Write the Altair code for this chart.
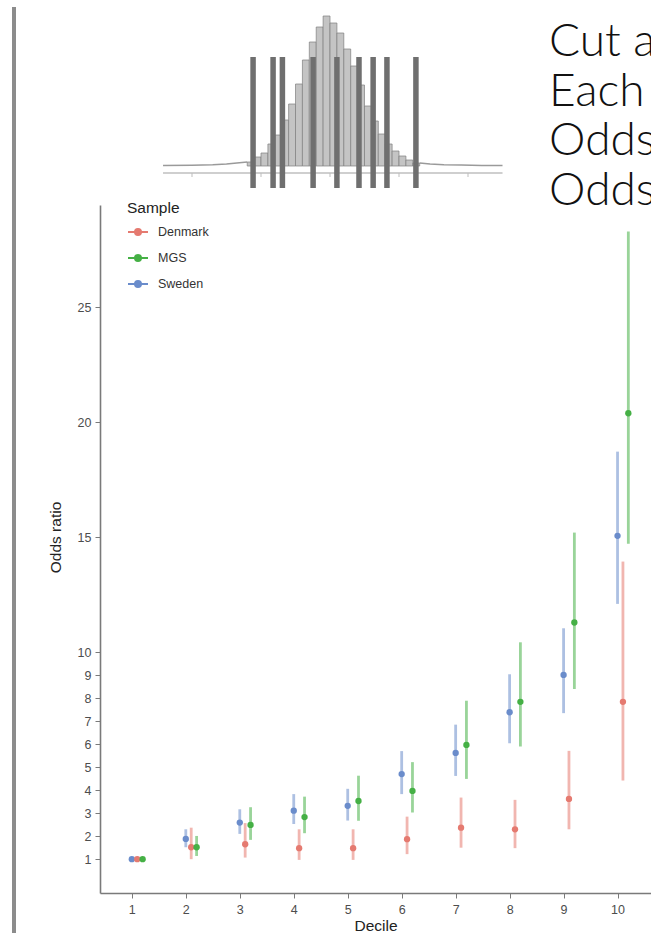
import altair as alt
import pandas as pd

# ---------------- data ----------------
deciles = list(range(1, 11))
samples = ["Denmark", "MGS", "Sweden"]
sample_colors = ["#E57A70", "#45B045", "#6A8CCB"]
dodge = {"Sweden": 0.0, "Denmark": 0.1, "MGS": 0.2}

sweden_or = [1.0, 1.88, 2.59, 3.11, 3.32, 4.70, 5.62, 7.39, 9.01, 15.06]
sweden_lo = [0.99, 1.52, 2.10, 2.53, 2.68, 3.83, 4.62, 6.04, 7.35, 12.10]
sweden_hi = [1.01, 2.30, 3.17, 3.83, 4.06, 5.70, 6.85, 9.04, 11.04, 18.72]

denmark_or = [1.0, 1.52, 1.65, 1.48, 1.48, 1.87, 2.37, 2.30, 3.62, 7.84]
denmark_lo = [0.99, 1.00, 1.07, 0.97, 0.97, 1.22, 1.50, 1.48, 2.30, 4.42]
denmark_hi = [1.01, 2.37, 2.57, 2.30, 2.30, 2.85, 3.68, 3.58, 5.71, 13.94]

mgs_or = [1.0, 1.52, 2.49, 2.83, 3.53, 3.97, 5.97, 7.84, 11.29, 20.39]
mgs_lo = [0.99, 1.14, 1.84, 2.13, 2.67, 3.03, 4.49, 5.90, 8.40, 14.71]
mgs_hi = [1.01, 2.01, 3.26, 3.72, 4.63, 5.22, 7.89, 10.43, 15.20, 28.29]

y_ticks = [1, 2, 3, 4, 5, 6, 7, 8, 9, 10, 15, 20, 25]

# histogram of the score (top sketch)
hist_start = -2.4
hist_width = 0.2
hist_heights = [4, 9, 13, 22, 31, 46, 62, 82, 106, 124, 139, 150, 143,
                133, 117, 100, 81, 60, 45, 32, 22, 15, 10, 6, 3]
tail_left_x = [-4.84, -4.0, -3.4, -3.0, -2.7, -2.4]
tail_left_y = [0.5, 0.8, 1.2, 2.0, 3.0, 4.0]
tail_right_x = [2.6, 2.9, 3.3, 3.8, 4.4, 5.0]
tail_right_y = [3.0, 2.0, 1.3, 0.9, 0.6, 0.5]
hist_axis_ticks = [-4, -2, 0, 2, 4]
decile_cuts = [-2.23, -1.65, -1.38, -0.49, 0.20, 0.84, 1.25, 1.65, 2.49]
slide_lines = ["Cut a", "Each", "Odds", "Odds"]

# ---------------- tables ----------------
series = {
    "Sweden": (sweden_or, sweden_lo, sweden_hi),
    "Denmark": (denmark_or, denmark_lo, denmark_hi),
    "MGS": (mgs_or, mgs_lo, mgs_hi),
}
rows = []
for s, (o, lo, hi) in series.items():
    for i, d in enumerate(deciles):
        rows.append({"sample": s, "decile": d, "pos": d + dodge[s],
                     "odds": o[i], "lo": lo[i], "hi": hi[i]})
df = pd.DataFrame(rows)

hist_df = pd.DataFrame({
    "x0": [hist_start + i * hist_width for i in range(len(hist_heights))],
    "x1": [hist_start + (i + 1) * hist_width for i in range(len(hist_heights))],
    "h": hist_heights,
})
tail_df = pd.DataFrame({
    "x": tail_left_x + tail_right_x,
    "y": tail_left_y + tail_right_y,
    "side": ["l"] * len(tail_left_x) + ["r"] * len(tail_right_x),
})
cuts_df = pd.DataFrame({"x": decile_cuts, "top": [109] * len(decile_cuts),
                        "bot": [-22] * len(decile_cuts)})
hline_df = pd.DataFrame({"x0": [tail_left_x[0]], "x1": [tail_right_x[-1]], "y": [-7]})
hticks_df = pd.DataFrame({"x": hist_axis_ticks, "y0": [-7] * 5, "y1": [-11] * 5})
text_df = pd.DataFrame({"t": slide_lines,
                        "x": [6.35] * len(slide_lines),
                        "y": [110 - 49.5 * i for i in range(len(slide_lines))]})

# ---------------- top sketch ----------------
TOP_H = 205
hx = alt.Scale(domain=[-6.667, 9.304], nice=False, zero=False)
hy = alt.Scale(domain=[166 - TOP_H, 166], nice=False, zero=False)

bars = alt.Chart(hist_df).mark_rect(fill="#c4c4c4", stroke="#808080", strokeWidth=0.7).encode(
    x=alt.X("x0:Q", scale=hx, axis=None), x2="x1:Q",
    y=alt.Y("h:Q", scale=hy, axis=None), y2=alt.datum(0))
tails = alt.Chart(tail_df).mark_line(color="#9a9a9a", strokeWidth=1.5).encode(
    x=alt.X("x:Q", scale=hx, axis=None), y=alt.Y("y:Q", scale=hy, axis=None), detail="side:N")
hline = alt.Chart(hline_df).mark_rule(color="#cfcfcf", strokeWidth=2).encode(
    x=alt.X("x0:Q", scale=hx, axis=None), x2="x1:Q", y=alt.Y("y:Q", scale=hy, axis=None))
hticks = alt.Chart(hticks_df).mark_rule(color="#bdbdbd", strokeWidth=1).encode(
    x=alt.X("x:Q", scale=hx, axis=None), y=alt.Y("y0:Q", scale=hy, axis=None), y2="y1:Q")
cuts = alt.Chart(cuts_df).mark_rule(color="#6f6f6f", strokeWidth=5.5).encode(
    x=alt.X("x:Q", scale=hx, axis=None), y=alt.Y("top:Q", scale=hy, axis=None), y2="bot:Q")
slide_text = alt.Chart(text_df).mark_text(
    align="left", baseline="alphabetic", font="Lato", fontWeight=300, fontSize=46,
    color="#111111", clip=True).encode(
    x=alt.X("x:Q", scale=hx, axis=None), y=alt.Y("y:Q", scale=hy, axis=None), text="t:N")

top = alt.layer(hline, hticks, tails, bars, cuts, slide_text).properties(width=551, height=TOP_H)

# ---------------- main plot ----------------
MAIN_H = 893 - TOP_H
sym = "M-1,0L1,0M0.3,0A0.3,0.3,0,1,1,-0.3,0A0.3,0.3,0,1,1,0.3,0"
color = alt.Color("sample:N", scale=alt.Scale(domain=samples, range=sample_colors),
                  legend=alt.Legend(title="Sample", orient="none", legendX=27, legendY=201,
                                    symbolType=sym, symbolSize=400, symbolStrokeWidth=2,
                                    symbolOpacity=1, labelFont="Liberation Sans",
                                    labelFontSize=12.5, labelColor="#333333", labelOffset=9,
                                    titleFont="Liberation Sans", titleFontSize=15.5,
                                    titleFontWeight="normal", titleColor="#222222",
                                    titlePadding=4.5, rowPadding=8, padding=0))

xs = alt.Scale(domain=[0.41, 10.62], nice=False, zero=False)
ys = alt.Scale(domain=[-0.47, -0.47 + MAIN_H / 23.0], nice=False, zero=False)
xaxis = alt.Axis(values=deciles, title="Decile", titleBaseline="alphabetic", titleY=37,
                 labelPadding=5)
yaxis = alt.Axis(values=y_ticks, title="Odds ratio", titleX=-37, titleY=337 - (TOP_H - 200),
                 titleBaseline="bottom", titleAlign="center", labelPadding=4)

base = alt.Chart(df)
rules = base.mark_rule(strokeWidth=2.8, opacity=0.55).encode(
    x=alt.X("pos:Q", scale=xs, axis=xaxis),
    y=alt.Y("lo:Q", scale=ys, axis=yaxis), y2="hi:Q", color=color)
points = base.mark_circle(size=40, opacity=1).encode(
    x=alt.X("pos:Q", scale=xs, axis=xaxis),
    y=alt.Y("odds:Q", scale=ys, axis=yaxis), color=color)
border = alt.Chart(pd.DataFrame({"k": [0]})).mark_rule(color="#8c8c8c", strokeWidth=4).encode(
    x=alt.value(-86), y=alt.value(7 - TOP_H), y2=alt.value(933 - TOP_H))

bottom = alt.layer(rules, points, border).properties(width=551, height=MAIN_H)

chart = alt.vconcat(top, bottom, spacing=0, bounds="flush").properties(
    padding={"left": 12, "top": 0, "right": 0, "bottom": 0}, background="white"
).configure_view(strokeWidth=0, stroke=None).configure_axis(
    domainColor="#7a7a7a", domainWidth=1.6, tickColor="#7a7a7a", tickWidth=1, tickSize=5,
    labelColor="#4d4d4d", labelFont="Liberation Sans", labelFontSize=12.5,
    titleFont="Liberation Sans", titleFontSize=15.5, titleFontWeight="normal",
    titleColor="#222222", grid=False)

chart.save("out.html", embed_options={"renderer": "svg", "actions": False})
